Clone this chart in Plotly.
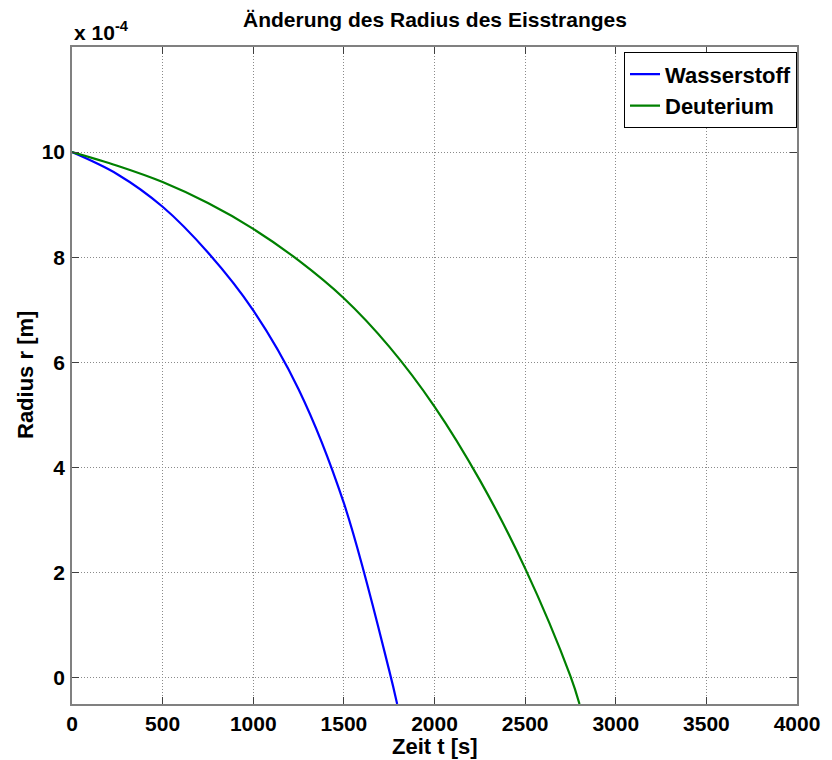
import plotly.graph_objects as go

# Radius in units of 1e-4 m over time in s
t_h = [0, 250, 500, 750, 1000, 1250, 1500, 1750, 1794]
r_h = [10.0, 9.58, 8.96, 8.09, 6.99, 5.49, 3.32, 0.14, -0.5]

t_d = [0, 250, 500, 750, 1000, 1250, 1500, 1750, 2000, 2250, 2500, 2750, 2800]
r_d = [10.0, 9.74, 9.43, 9.03, 8.54, 7.94, 7.22, 6.30, 5.16, 3.76, 2.08, 0.03, -0.5]

x_ticks = [0, 500, 1000, 1500, 2000, 2500, 3000, 3500, 4000]
y_ticks = [0, 2, 4, 6, 8, 10]

FONT = "Liberation Sans, Arial, sans-serif"
FS = 21

fig = go.Figure()
fig.add_trace(go.Scatter(x=t_h, y=r_h, mode="lines", name="Wasserstoff",
                         line=dict(color="#0000ff", width=2.2, shape="spline", smoothing=1.0)))
fig.add_trace(go.Scatter(x=t_d, y=r_d, mode="lines", name="Deuterium",
                         line=dict(color="#008000", width=2.2, shape="spline", smoothing=1.0)))

axis_common = dict(
    showgrid=True, gridcolor="#8a8a8a", griddash="1px,2px", gridwidth=1,
    showline=True, linecolor="#808080", linewidth=1.5, mirror="ticks",
    ticks="inside", ticklen=7, tickcolor="#404040", tickwidth=1,
    zeroline=False,
    tickfont=dict(family=FONT, size=FS, color="black", weight="bold"),
)

fig.update_xaxes(range=[0, 4000], tickvals=x_ticks, ticktext=[str(v) for v in x_ticks],
                 **axis_common)
fig.update_yaxes(range=[-0.5, 12], tickvals=y_ticks, ticktext=[str(v) for v in y_ticks],
                 ticklabelstandoff=1, **axis_common)

fig.update_layout(
    width=832, height=760,
    margin=dict(l=72, r=27, t=47, b=56),
    paper_bgcolor="white", plot_bgcolor="white",
    font=dict(family=FONT, size=FS, color="black"),
    showlegend=True,
    legend=dict(
        x=1.0, y=0.992, xanchor="right", yanchor="top",
        bgcolor="white", bordercolor="black", borderwidth=1,
        font=dict(family=FONT, size=22, color="black", weight="bold"),
        tracegroupgap=0,
    ),
    annotations=[
        dict(text="Änderung des Radius des Eisstranges", xref="paper", yref="paper",
             x=0.5, y=1, yanchor="bottom", yshift=14, showarrow=False,
             font=dict(family=FONT, size=FS, color="black", weight="bold")),
        dict(text="x 10<sup>-4</sup>", xref="paper", yref="paper",
             x=0, y=1, xanchor="left", yanchor="bottom", yshift=1, showarrow=False,
             font=dict(family=FONT, size=FS, color="black", weight="bold")),
        dict(text="Zeit t [s]", xref="paper", yref="paper",
             x=0.5, y=0, yanchor="top", yshift=-28, showarrow=False,
             font=dict(family=FONT, size=22, color="black", weight="bold")),
        dict(text="Radius r [m]", xref="paper", yref="paper", textangle=-90,
             x=0, y=0.5, xanchor="right", xshift=-32, showarrow=False,
             font=dict(family=FONT, size=22, color="black", weight="bold")),
    ],
)

fig.write_html("out.html")
